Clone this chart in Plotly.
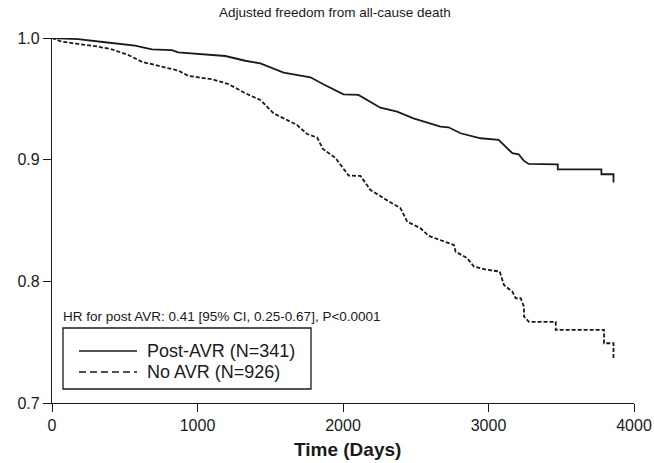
import plotly.graph_objects as go

# ---- data ----
post_avr_days = [0, 179, 365, 571, 686, 824, 867, 1191, 1328, 1432, 1592, 1776, 1865, 2003, 2106,
                 2257, 2372, 2484, 2670, 2725, 2808, 2946, 3070, 3164, 3207, 3242, 3276, 3476, 3476,
                 3776, 3776, 3859, 3859]
post_avr_surv = [1.0, 0.999, 0.9965, 0.9937, 0.9907, 0.9901, 0.9882, 0.9852, 0.9813, 0.9792, 0.9715,
                 0.9677, 0.9620, 0.9537, 0.9532, 0.9427, 0.9394, 0.9340, 0.9271, 0.9266, 0.9217,
                 0.9176, 0.9162, 0.9053, 0.9044, 0.8992, 0.8965, 0.8962, 0.8921, 0.8921, 0.8880,
                 0.8880, 0.8812]

no_avr_days = [0, 67, 179, 296, 411, 525, 617, 709, 869, 938, 1099, 1213, 1328, 1432, 1523, 1684,
               1753, 1822, 1862, 1948, 1982, 2039, 2120, 2189, 2280, 2395, 2441, 2533, 2590, 2693,
               2762, 2774, 2854, 2900, 2992, 3077, 3106, 3164, 3187, 3221, 3244, 3244, 3278, 3462,
               3462, 3794, 3794, 3859, 3859]
no_avr_surv = [1.0, 0.997, 0.9951, 0.9934, 0.9907, 0.986, 0.9805, 0.9778, 0.9731, 0.9688, 0.9661,
               0.9622, 0.9546, 0.9491, 0.9381, 0.9285, 0.9211, 0.9182, 0.9088, 0.9014, 0.8956,
               0.8869, 0.8866, 0.8751, 0.8683, 0.8601, 0.8491, 0.8436, 0.8373, 0.8326, 0.8299,
               0.8244, 0.8190, 0.8121, 0.8094, 0.8081, 0.7970, 0.7915, 0.7861, 0.7861, 0.7792,
               0.7710, 0.7666, 0.7666, 0.7601, 0.7601, 0.7491, 0.7491, 0.7368]

x_ticks = [0, 1000, 2000, 3000, 4000]
y_ticks = [0.7, 0.8, 0.9, 1.0]
y_tick_labels = ["0.7", "0.8", "0.9", "1.0"]

title_text = "Adjusted freedom from all-cause death"
hr_text = "HR for post AVR: 0.41 [95% CI, 0.25-0.67], P<0.0001"
legend_labels = ["Post-AVR (N=341)", "No AVR (N=926)"]

# ---- layout geometry ----
W, H = 654, 463
L, R, T, B = 52, 20, 38, 60
PW, PH = W - L - R, H - T - B
FONT = "Liberation Sans, Arial, Helvetica, sans-serif"


def px(x):
    return (x - L) / PW


def py(y):
    return (H - B - y) / PH


fig = go.Figure()
fig.add_trace(go.Scatter(x=post_avr_days, y=post_avr_surv, mode="lines",
                         line=dict(color="#1a1a1a", width=1.8), name=legend_labels[0],
                         showlegend=False))
fig.add_trace(go.Scatter(x=no_avr_days, y=no_avr_surv, mode="lines",
                         line=dict(color="#1a1a1a", width=1.8, dash="4px,2px"),
                         name=legend_labels[1], showlegend=False))

shapes = [
    # legend box
    dict(type="rect", xref="paper", yref="paper", x0=px(63), x1=px(311), y0=py(389), y1=py(328),
         line=dict(color="#1a1a1a", width=1.3), fillcolor="white"),
    dict(type="line", xref="paper", yref="paper", x0=px(79), x1=px(137), y0=py(351), y1=py(351),
         line=dict(color="#1a1a1a", width=1.3)),
    dict(type="line", xref="paper", yref="paper", x0=px(79), x1=px(137), y0=py(372), y1=py(372),
         line=dict(color="#1a1a1a", width=1.3, dash="7px,4px")),
]

annotations = [
    dict(text=title_text, xref="paper", yref="paper", x=px(335), y=py(12), xanchor="center",
         yanchor="middle", showarrow=False, font=dict(family=FONT, size=13.5, color="#1a1a1a")),
    dict(text=hr_text, xref="paper", yref="paper", x=px(61), y=py(316), xanchor="left",
         yanchor="middle", showarrow=False, font=dict(family=FONT, size=13.5, color="#1a1a1a")),
    dict(text=legend_labels[0], xref="paper", yref="paper", x=px(145), y=py(351), xanchor="left",
         yanchor="middle", showarrow=False, font=dict(family=FONT, size=18, color="#1a1a1a")),
    dict(text=legend_labels[1], xref="paper", yref="paper", x=px(145), y=py(372), xanchor="left",
         yanchor="middle", showarrow=False, font=dict(family=FONT, size=18, color="#1a1a1a")),
    dict(text="<b>Time (Days)</b>", xref="paper", yref="paper", x=px(347), y=py(449),
         xanchor="center", yanchor="middle", showarrow=False,
         font=dict(family=FONT, size=19, color="#1a1a1a")),
]

fig.update_layout(
    width=W, height=H,
    margin=dict(l=L, r=R, t=T, b=B, pad=0),
    paper_bgcolor="white", plot_bgcolor="white",
    shapes=shapes, annotations=annotations,
    font=dict(family=FONT, color="#1a1a1a"),
    xaxis=dict(range=[0, 4000], tickvals=x_ticks, ticks="outside", ticklen=8, tickwidth=1.3,
               tickcolor="#1a1a1a", showline=True, linecolor="#1a1a1a", linewidth=1.3,
               showgrid=False, zeroline=False, tickfont=dict(size=16), automargin=False),
    yaxis=dict(range=[0.7, 1.0], tickvals=y_ticks, ticktext=y_tick_labels, ticks="outside",
               ticklen=8, tickwidth=1.3, tickcolor="#1a1a1a", showline=True,
               linecolor="#1a1a1a", linewidth=1.3, showgrid=False, zeroline=False,
               tickfont=dict(size=16), automargin=False),
)

fig.write_html("out.html", config={"displayModeBar": False},
               post_script="document.body.style.margin='0px';document.body.style.overflow='hidden';")
